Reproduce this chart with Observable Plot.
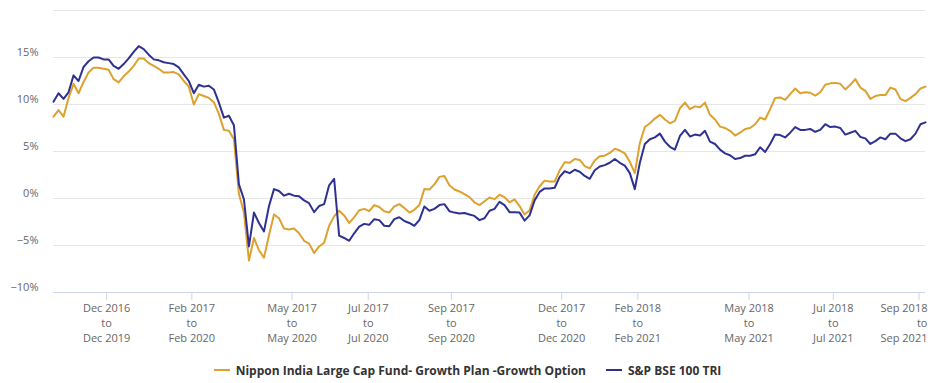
<!DOCTYPE html>
<html>
<head>
<meta charset="utf-8">
<script src="https://cdn.jsdelivr.net/npm/d3@7"></script>
<script src="https://cdn.jsdelivr.net/npm/@observablehq/plot@0.6"></script>
<style>
  html, body { margin: 0; padding: 0; background: #fff; }
  #chart svg { display: block; }
  .legend { display: flex; justify-content: center; align-items: center; margin-top: 10px; height: 16px;
    font-family: "Open Sans", sans-serif; font-size: 12px; font-weight: bold; color: #333; }
  .legend .item { display: flex; align-items: center; margin: 0 10px; }
  .legend .sw { width: 16px; height: 2px; margin-right: 6px; }
</style>
</head>
<body>
<div id="chart"></div>
<div class="legend" id="legend"></div>
<script>
// Rolling 3-year returns (%), one sample per observation step
const fundName = "Nippon India Large Cap Fund- Growth Plan -Growth Option";
const indexName = "S&P BSE 100 TRI";
const fundColor = "#dda12f";
const indexColor = "#2e3191";

const fundValues = [
  8.7, 9.4, 8.7, 10.7, 12.2, 11.2, 12.4, 13.4, 13.9, 13.9,
  13.8, 13.7, 12.7, 12.35, 13.0, 13.5, 14.1, 14.9, 14.9, 14.4,
  14.1, 13.8, 13.4, 13.4, 13.45, 13.2, 12.5, 11.9, 10.0, 11.1,
  10.9, 10.7, 10.25, 9.0, 7.3, 7.2, 6.3, 0.5, -1.5, -6.6,
  -4.2, -5.5, -6.3, -3.9, -1.7, -2.1, -3.2, -3.3, -3.2, -3.7,
  -4.5, -4.8, -5.8, -5.1, -4.7, -2.9, -1.9, -1.3, -1.8, -2.6,
  -2.0, -1.25, -1.1, -1.35, -0.7, -0.9, -1.35, -1.5, -0.85, -0.6,
  -1.0, -1.5, -1.2, -0.7, 1.0, 0.96, 1.5, 2.3, 2.4, 1.4,
  0.96, 0.75, 0.46, 0.15, -0.4, -0.7, -0.3, 0.1, -0.07, 0.4,
  0.15, -0.4, -0.1, -0.8, -1.7, -1.25, 0.4, 1.3, 1.9, 1.8,
  1.8, 3.0, 3.85, 3.8, 4.2, 4.1, 3.45, 3.2, 4.05, 4.5,
  4.55, 4.85, 5.3, 5.1, 4.8, 3.9, 2.7, 5.9, 7.6, 8.0,
  8.5, 8.9, 8.4, 8.0, 8.25, 9.6, 10.2, 9.5, 9.8, 9.7,
  10.2, 8.9, 8.4, 7.65, 7.5, 7.2, 6.7, 7.0, 7.4, 7.5,
  7.9, 8.6, 8.4, 9.5, 10.7, 10.75, 10.5, 11.1, 11.7, 11.2,
  11.3, 11.25, 10.95, 11.3, 12.1, 12.25, 12.3, 12.2, 11.6, 12.1,
  12.7, 11.8, 11.45, 10.6, 10.9, 11.0, 11.0, 11.8, 11.6, 10.6,
  10.35, 10.7, 11.1, 11.7, 11.9
];

const indexValues = [
  10.3, 11.2, 10.6, 11.3, 13.1, 12.5, 14.0, 14.6, 15.0, 15.0,
  14.8, 14.8, 14.1, 13.8, 14.3, 14.9, 15.6, 16.2, 15.9, 15.3,
  14.8, 14.7, 14.5, 14.4, 14.3, 13.95, 13.2, 12.5, 11.2, 12.1,
  11.9, 12.0, 11.6, 10.2, 8.6, 8.8, 7.8, 1.5, -0.1, -5.1,
  -1.5, -2.6, -3.5, -0.8, 1.0, 0.8, 0.3, 0.5, 0.3, 0.25,
  -0.2, -0.5, -1.45, -0.8, -0.6, 1.4, 2.1, -3.95, -4.2, -4.5,
  -3.7, -3.0, -2.7, -2.8, -2.2, -2.3, -2.9, -2.95, -2.2, -2.0,
  -2.4, -2.6, -2.9, -2.3, -0.85, -1.3, -1.1, -0.7, -0.6, -1.35,
  -1.5, -1.6, -1.55, -1.7, -1.85, -2.3, -2.1, -1.3, -1.1, -0.35,
  -0.7, -1.45, -1.45, -1.5, -2.35, -1.8, -0.2, 0.7, 1.07, 1.07,
  1.14, 2.3, 2.9, 2.7, 3.06, 2.85, 2.4, 2.1, 3.0, 3.4,
  3.55, 3.8, 4.2, 3.8, 3.5, 2.7, 1.0, 3.8, 5.8, 6.3,
  6.5, 6.9, 6.05, 5.5, 5.2, 6.65, 7.3, 6.6, 6.8, 6.7,
  7.2, 6.05, 5.8, 5.2, 4.8, 4.6, 4.2, 4.3, 4.55, 4.55,
  4.7, 5.45, 4.95, 5.8, 6.8, 6.75, 6.5, 7.0, 7.6, 7.3,
  7.3, 7.4, 7.1, 7.3, 7.9, 7.6, 7.65, 7.5, 6.8, 7.0,
  7.2, 6.55, 6.4, 5.8, 6.1, 6.5, 6.3, 6.9, 6.9, 6.4,
  6.1, 6.3, 6.9, 7.9, 8.1
];

// x-axis category ticks (observation step at which each label sits)
const tickPositions = [10.6, 27.6, 47.6, 62.8, 79.4, 101.4, 116.6, 138.8, 155.6, 172.7];
const tickLabels = [
  "Dec 2016\nto\nDec 2019", "Feb 2017\nto\nFeb 2020", "May 2017\nto\nMay 2020",
  "Jul 2017\nto\nJul 2020", "Sep 2017\nto\nSep 2020", "Dec 2017\nto\nDec 2020",
  "Feb 2018\nto\nFeb 2021", "May 2018\nto\nMay 2021", "Jul 2018\nto\nJul 2021",
  "Sep 2018\nto\nSep 2021"
];
const yGrid = [-5, 0, 5, 10, 15, 20];
const yLabels = [-10, -5, 0, 5, 10, 15];

const fundRows = fundValues.map((v, i) => ({i, v}));
const indexRows = indexValues.map((v, i) => ({i, v}));
const tickRows = tickPositions.map((p, k) => ({p, label: tickLabels[k]}));

const chart = Plot.plot({
  width: 935,
  height: 352,
  marginLeft: 53,
  marginRight: 10,
  marginTop: 10,
  marginBottom: 60,
  x: {domain: [0, fundValues.length - 1], axis: null},
  y: {domain: [-10, 20], axis: null},
  style: {fontFamily: "'Open Sans', sans-serif", fontSize: "11px", color: "#666", background: "#fff"},
  marks: [
    Plot.gridY(yGrid, {stroke: "#e6e6e6", strokeOpacity: 1}),
    Plot.axisY(yLabels, {tickSize: 0, tickPadding: 15, dy: -5, fill: "#666", fontSize: 11, label: null,
      tickFormat: d => (d < 0 ? "\u2212" + Math.abs(d) : d) + "%"}),
    Plot.ruleY([-10], {stroke: "#ccd6eb"}),
    Plot.axisX(tickPositions, {tickSize: 8, stroke: "#ccd6eb", strokeOpacity: 1, label: null, tickFormat: () => ""}),
    Plot.text(tickRows.slice(0, -1), {x: "p", text: "label", frameAnchor: "bottom", lineAnchor: "top",
      dy: 9, lineHeight: 1.36, fill: "#666", fontSize: 11}),
    Plot.text(tickRows.slice(-1), {x: "p", text: "label", frameAnchor: "bottom", lineAnchor: "top",
      textAnchor: "end", dx: 8.5, dy: 9, lineHeight: 1.36, fill: "#666", fontSize: 11}),
    Plot.line(fundRows, {x: "i", y: "v", stroke: fundColor, strokeWidth: 2}),
    Plot.line(indexRows, {x: "i", y: "v", stroke: indexColor, strokeWidth: 2})
  ]
});
document.getElementById("chart").appendChild(chart);

const legend = document.getElementById("legend");
[[fundName, fundColor], [indexName, indexColor]].forEach(([name, color]) => {
  const item = document.createElement("div");
  item.className = "item";
  const sw = document.createElement("div");
  sw.className = "sw";
  sw.style.background = color;
  const t = document.createElement("span");
  t.textContent = name;
  item.appendChild(sw);
  item.appendChild(t);
  legend.appendChild(item);
});
</script>
</body>
</html>
